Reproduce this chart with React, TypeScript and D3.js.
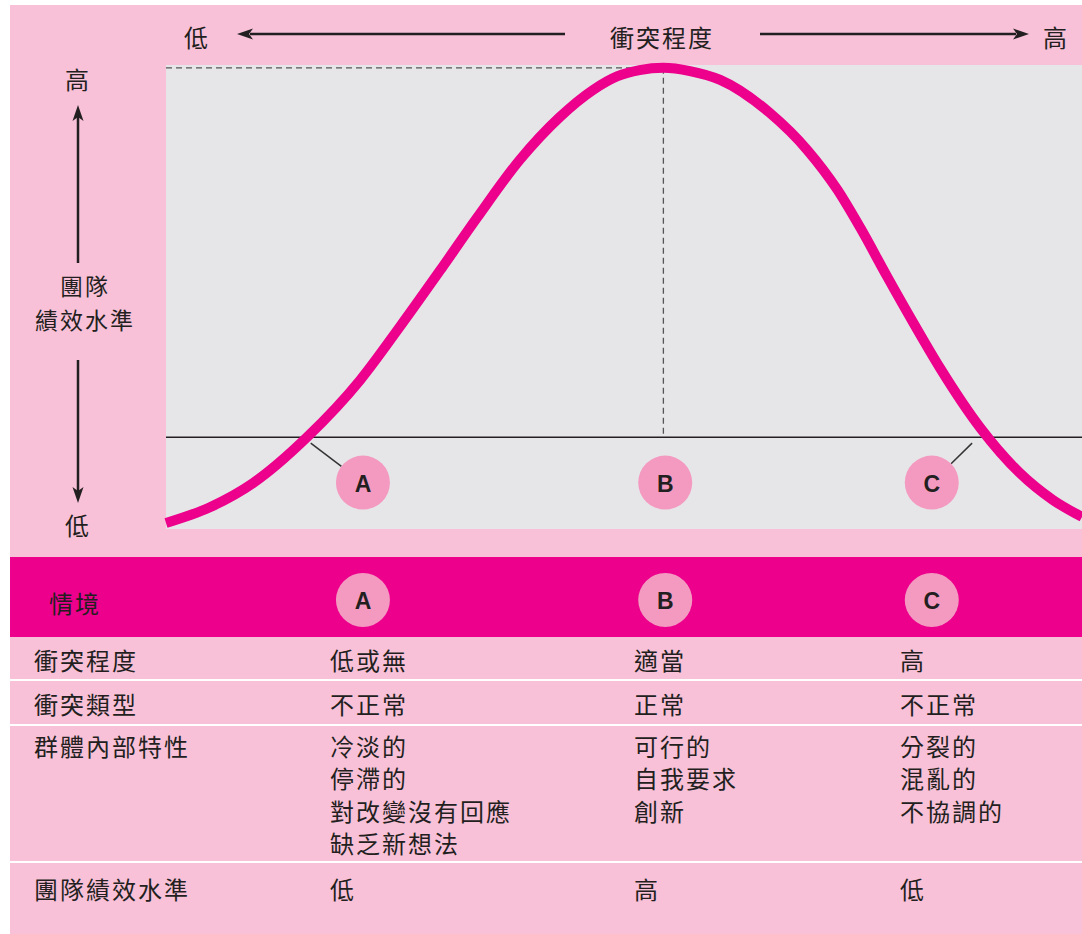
import React from 'react';
import * as d3 from 'd3';

// Curve samples: conflict level (0–100) vs team performance (0–100)
const conflictLevel = [0, 4.8, 9.5, 15.4, 21.2, 25.5, 30.2, 34.0, 38.6, 43.0, 46.6, 49.3, 51.7, 54.3, 57.2, 60.5, 65.9, 70.0, 73.3, 75.8, 78.7, 81.6, 84.5, 88.9, 93.2, 96.8, 100];
const performance = [1.3, 4.7, 9.9, 19.8, 32.1, 43.5, 56.5, 67.2, 79.5, 88.8, 94.6, 97.6, 98.9, 99.4, 98.7, 96.8, 89.7, 81.7, 73.1, 64.9, 54.5, 44.4, 34.7, 21.8, 12.1, 6.3, 2.6];

const peakConflict = 54.3;
const peakPerformance = 99.4;
const baselinePerformance = 19.8;

// Situations A/B/C: position on the conflict axis, and the curve point each leader points to
const situations = ['A', 'B', 'C'];
const situationConflict = [21.5, 54.5, 83.6];
const situationPerformance = 10;
const leaderTargetConflict = [15.8, null, 88.0];

// Table
const rowLabels = ['衝突程度', '衝突類型', '群體內部特性', '團隊績效水準'];
const headerLabel = '情境';
const conflictDegree = ['低或無', '適當', '高'];
const conflictType = ['不正常', '正常', '不正常'];
const traits = [
  ['冷淡的', '停滯的', '對改變沒有回應', '缺乏新想法'],
  ['可行的', '自我要求', '創新'],
  ['分裂的', '混亂的', '不協調的'],
];
const teamPerf = ['低', '高', '低'];

const xAxisTitle = '衝突程度';
const yAxisTitle = ['團隊', '績效水準'];
const lowLabel = '低';
const highLabel = '高';

const W = 1082;
const H = 934;
const PINK = '#f8c1d8';
const GRAY = '#e6e6e8';
const MAGENTA = '#ec008c';
const CIRCLE = '#f49ac1';
const INK = '#231f20';
const FONT = '"Noto Sans CJK TC", "Noto Sans", sans-serif';

export default function App() {
  const plot = { left: 166, right: 1082, top: 65, bottom: 529 };
  const x = d3.scaleLinear().domain([0, 100]).range([plot.left, plot.right]);
  const y = d3.scaleLinear().domain([0, 100]).range([plot.bottom, plot.top]);

  const pts: [number, number][] = conflictLevel.map((c, i) => [c, performance[i]]);
  const line = d3
    .line<[number, number]>()
    .x((d) => x(d[0]))
    .y((d) => y(d[1]))
    .curve(d3.curveMonotoneX);

  const r = 27;
  const colX = [330, 634, 900];
  const textStyle = { fontFamily: FONT, fontSize: 24, letterSpacing: 2, fill: INK } as const;
  const letterStyle = { fontFamily: '"Liberation Sans", Arial, sans-serif', fontWeight: 700, fontSize: 23, fill: INK } as const;

  const arrowHead = (tx: number, ty: number, dir: 'l' | 'r' | 'u' | 'd') => {
    const L = 16, Wd = 5.5;
    let p = '';
    if (dir === 'l') p = `M${tx},${ty} L${tx + L},${ty - Wd} L${tx + L - 4},${ty} L${tx + L},${ty + Wd} Z`;
    if (dir === 'r') p = `M${tx},${ty} L${tx - L},${ty - Wd} L${tx - L + 4},${ty} L${tx - L},${ty + Wd} Z`;
    if (dir === 'u') p = `M${tx},${ty} L${tx - Wd},${ty + L} L${tx},${ty + L - 4} L${tx + Wd},${ty + L} Z`;
    if (dir === 'd') p = `M${tx},${ty} L${tx - Wd},${ty - L} L${tx},${ty - L + 4} L${tx + Wd},${ty - L} Z`;
    return <path d={p} fill={INK} />;
  };

  const bandTop = 557, bandBottom = 637;
  const rowLines = [680, 725, 862];
  const rowY = [659, 703, 745, 888];
  const lineGap = 32.5;

  const yBase = y(baselinePerformance);
  const yCirc = y(situationPerformance);

  return (
    <svg width={W} height={H} style={{ position: 'absolute', left: 0, top: 0 }}>
      <rect x={0} y={0} width={W} height={H} fill="#ffffff" />
      <rect x={10} y={5} width={W - 10} height={H - 5} fill={PINK} />
      <rect x={plot.left} y={plot.top} width={plot.right - plot.left} height={plot.bottom - plot.top} fill={GRAY} />

      {/* top axis */}
      <text x={197} y={36} textAnchor="middle" dominantBaseline="central" style={textStyle}>{lowLabel}</text>
      <line x1={565} y1={34} x2={250} y2={34} stroke={INK} strokeWidth={2.5} />
      {arrowHead(237, 34, 'l')}
      <text x={662} y={36} textAnchor="middle" dominantBaseline="central" style={textStyle}>{xAxisTitle}</text>
      <line x1={760} y1={34} x2={1016} y2={34} stroke={INK} strokeWidth={2.5} />
      {arrowHead(1029, 34, 'r')}
      <text x={1056} y={36} textAnchor="middle" dominantBaseline="central" style={textStyle}>{highLabel}</text>

      {/* left axis */}
      <text x={78} y={78} textAnchor="middle" dominantBaseline="central" style={textStyle}>{highLabel}</text>
      <line x1={78} y1={263} x2={78} y2={117} stroke={INK} strokeWidth={2.5} />
      {arrowHead(78, 105, 'u')}
      <text x={85} y={285} textAnchor="middle" dominantBaseline="central" style={{ ...textStyle, fontSize: 23 }}>{yAxisTitle[0]}</text>
      <text x={85} y={319} textAnchor="middle" dominantBaseline="central" style={{ ...textStyle, fontSize: 23 }}>{yAxisTitle[1]}</text>
      <line x1={78} y1={360} x2={78} y2={491} stroke={INK} strokeWidth={2.5} />
      {arrowHead(78, 503, 'd')}
      <text x={78} y={524} textAnchor="middle" dominantBaseline="central" style={textStyle}>{lowLabel}</text>

      {/* reference lines */}
      <line x1={plot.left} y1={y(peakPerformance)} x2={x(peakConflict)} y2={y(peakPerformance)} stroke="#555" strokeWidth={1.3} strokeDasharray="6,4" />
      <line x1={x(peakConflict)} y1={y(peakPerformance)} x2={x(peakConflict)} y2={yBase} stroke="#555" strokeWidth={1.3} strokeDasharray="6,4" />
      <line x1={plot.left} y1={yBase} x2={plot.right} y2={yBase} stroke={INK} strokeWidth={1.5} />

      {/* leader lines */}
      {situations.map((s, i) => {
        const t = leaderTargetConflict[i];
        if (t == null) return null;
        const cx = x(situationConflict[i]);
        const tx = x(t);
        const ty = yBase + 6;
        const ang = Math.atan2(ty - yCirc, tx - cx);
        return (
          <line key={s} x1={cx + r * Math.cos(ang)} y1={yCirc + r * Math.sin(ang)} x2={tx} y2={ty} stroke="#333" strokeWidth={1.5} />
        );
      })}

      {/* curve */}
      <path d={line(pts) || ''} fill="none" stroke={MAGENTA} strokeWidth={10} strokeLinecap="butt" />

      {/* situation circles in plot */}
      {situations.map((s, i) => (
        <g key={s}>
          <circle cx={x(situationConflict[i])} cy={yCirc} r={r} fill={CIRCLE} />
          <text x={x(situationConflict[i])} y={yCirc + 1} textAnchor="middle" dominantBaseline="central" style={letterStyle}>{s}</text>
        </g>
      ))}

      {/* table header band */}
      <rect x={10} y={bandTop} width={W - 10} height={bandBottom - bandTop} fill={MAGENTA} />
      <text x={49} y={602} dominantBaseline="central" style={textStyle}>{headerLabel}</text>
      {situations.map((s, i) => (
        <g key={'h' + s}>
          <circle cx={x(situationConflict[i])} cy={600} r={r} fill={CIRCLE} />
          <text x={x(situationConflict[i])} y={601} textAnchor="middle" dominantBaseline="central" style={letterStyle}>{s}</text>
        </g>
      ))}

      {/* row separators */}
      {rowLines.map((ly) => (
        <line key={ly} x1={10} y1={ly} x2={W} y2={ly} stroke="#ffffff" strokeWidth={2} />
      ))}

      {/* row labels */}
      {rowLabels.map((lab, i) => (
        <text key={lab} x={34} y={rowY[i]} dominantBaseline="central" style={textStyle}>{lab}</text>
      ))}

      {/* cells */}
      {colX.map((cx, j) => (
        <g key={'c' + j}>
          <text x={cx} y={rowY[0]} dominantBaseline="central" style={textStyle}>{conflictDegree[j]}</text>
          <text x={cx} y={rowY[1]} dominantBaseline="central" style={textStyle}>{conflictType[j]}</text>
          {traits[j].map((t, k) => (
            <text key={t} x={cx} y={rowY[2] + k * lineGap} dominantBaseline="central" style={textStyle}>{t}</text>
          ))}
          <text x={cx} y={rowY[3]} dominantBaseline="central" style={textStyle}>{teamPerf[j]}</text>
        </g>
      ))}
    </svg>
  );
}
